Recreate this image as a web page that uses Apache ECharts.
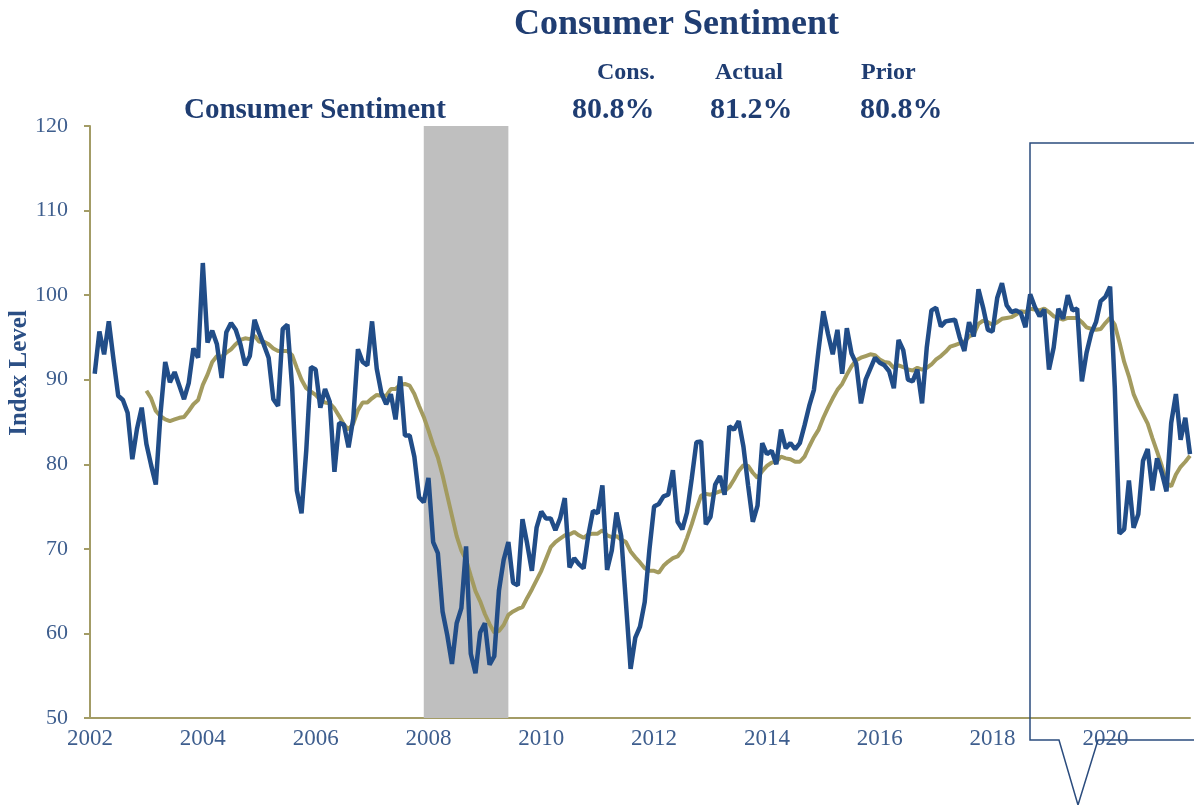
<!DOCTYPE html>
<html>
<head>
<meta charset="utf-8">
<title>Consumer Sentiment</title>
<script src="https://cdn.jsdelivr.net/npm/echarts@6/dist/echarts.min.js"></script>
<style>
  html, body { margin: 0; padding: 0; background: #fff; }
  #line { width: 1194px; height: 805px; }
</style>
</head>
<body>
<div id="line"></div>
<script>
// monthly index, Feb 2002 .. Jul 2021
var startYear = 2002, startMonth = 2;
var sentiment = [
  90.7, 95.7, 93.0, 96.9, 92.4, 88.1, 87.6, 86.1, 80.6, 84.2, 86.7,
  82.4, 79.9, 77.6, 86.0, 92.1, 89.7, 90.9, 89.3, 87.7, 89.6, 93.7, 92.6,
  103.8, 94.4, 95.8, 94.2, 90.2, 95.6, 96.7, 95.9, 94.2, 91.7, 92.8, 97.1,
  95.5, 94.1, 92.6, 87.7, 86.9, 96.0, 96.5, 89.1, 76.9, 74.2, 81.6, 91.5,
  91.2, 86.7, 88.9, 87.4, 79.1, 84.9, 84.7, 82.0, 85.4, 93.6, 92.1, 91.7,
  96.9, 91.3, 88.4, 87.1, 88.3, 85.3, 90.4, 83.4, 83.4, 80.9, 76.1, 75.5,
  78.4, 70.8, 69.5, 62.6, 59.8, 56.4, 61.2, 63.0, 70.3, 57.6, 55.3, 60.1,
  61.2, 56.3, 57.3, 65.1, 68.7, 70.8, 66.0, 65.7, 73.5, 70.6, 67.4, 72.5,
  74.4, 73.6, 73.6, 72.2, 73.6, 76.0, 67.8, 68.9, 68.2, 67.7, 71.6, 74.5,
  74.2, 77.5, 67.5, 69.8, 74.3, 71.5, 63.7, 55.8, 59.5, 60.8, 63.7, 69.9,
  75.0, 75.3, 76.2, 76.4, 79.3, 73.2, 72.3, 74.3, 78.3, 82.6, 82.7, 72.9,
  73.8, 77.6, 78.6, 76.4, 84.5, 84.1, 85.1, 82.1, 77.5, 73.2, 75.1, 82.5,
  81.2, 81.6, 80.0, 84.1, 81.9, 82.5, 81.8, 82.5, 84.6, 86.9, 88.8, 93.6,
  98.1, 95.4, 93.0, 95.9, 90.7, 96.1, 93.1, 91.9, 87.2, 90.0, 91.3, 92.6,
  92.0, 91.7, 91.0, 89.0, 94.7, 93.5, 90.0, 89.8, 91.2, 87.2, 93.8, 98.2,
  98.5, 96.3, 96.9, 97.0, 97.1, 95.0, 93.4, 96.8, 95.1, 100.7, 98.5, 95.9,
  95.7, 99.7, 101.4, 98.8, 98.0, 98.2, 97.9, 96.2, 100.1, 98.6, 97.5, 98.3,
  91.2, 93.8, 98.4, 97.2, 100.0, 98.2, 98.4, 89.8, 93.2, 95.5, 96.8, 99.3,
  99.8, 101.0, 89.1, 71.8, 72.3, 78.1, 72.5, 74.1, 80.4, 81.8, 76.9, 80.7,
  79.0, 76.8, 84.9, 88.3, 82.9, 85.5, 81.2
];

// 12 month average, Jan 2003 .. Jul 2021
var avgStartYear = 2003, avgStartMonth = 1;
var movingAvg = [
  88.7, 87.8, 86.3, 85.7, 85.3, 85.1, 85.3, 85.5, 85.6, 86.3, 87.1, 87.6,
  89.4, 90.6, 92.1, 92.8, 92.7, 93.2, 93.6, 94.2, 94.7, 94.9, 94.8, 95.2,
  94.5, 94.5, 94.2, 93.7, 93.4, 93.4, 93.4, 92.9, 91.4, 90.0, 89.0, 88.6,
  88.2, 87.6, 87.3, 87.2, 86.6, 85.7, 84.7, 84.1, 84.8, 86.4, 87.3, 87.3,
  87.8, 88.2, 88.1, 88.1, 88.9, 88.9, 89.4, 89.5, 89.3, 88.3, 86.9, 85.6,
  84.0, 82.3, 80.8, 78.7, 76.3, 73.9, 71.5, 69.8, 68.7, 66.8, 65.0, 63.8,
  62.3, 61.1, 60.1, 60.3, 61.0, 62.2, 62.6, 62.9, 63.1, 64.2, 65.2, 66.3,
  67.4, 68.8, 70.2, 70.8, 71.2, 71.6, 71.7, 72.0, 71.6, 71.3, 71.7, 71.8,
  71.8, 72.2, 71.6, 71.4, 71.5, 71.1, 70.8, 69.7, 69.0, 68.4, 67.7, 67.4,
  67.4, 67.2, 68.0, 68.5, 68.9, 69.1, 69.8, 71.3, 72.9, 74.7, 76.3, 76.5,
  76.4, 76.6, 76.8, 76.8, 77.3, 78.2, 79.2, 79.9, 79.8, 79.0, 78.4, 79.2,
  79.8, 80.2, 80.3, 80.9, 80.7, 80.6, 80.3, 80.3, 80.9, 82.1, 83.2, 84.1,
  85.5, 86.7, 87.8, 88.8, 89.5, 90.6, 91.6, 92.3, 92.6, 92.8, 93.0, 92.9,
  92.4, 92.1, 92.0, 91.4, 91.7, 91.5, 91.2, 91.1, 91.4, 91.2, 91.4, 91.8,
  92.4, 92.8, 93.3, 93.9, 94.1, 94.3, 94.5, 95.1, 95.4, 96.6, 97.0, 96.8,
  96.5, 96.8, 97.2, 97.3, 97.4, 97.7, 98.1, 98.0, 98.4, 98.3, 98.2, 98.4,
  98.0, 97.5, 97.3, 97.1, 97.3, 97.3, 97.3, 96.8, 96.2, 96.0, 95.9, 96.0,
  96.7, 97.3, 96.5, 94.4, 92.1, 90.4, 88.3, 87.0, 85.9, 84.8, 83.1, 81.5,
  79.8, 77.8, 77.4, 78.8, 79.7, 80.3, 81.0
];

// recession: Dec 2007 .. Jun 2009  [year, month]
var recessionStart = [2007, 12];
var recessionEnd = [2009, 6];

var xMin = 2002, xMax = 2021.5, xStep = 2;
var yMin = 50, yMax = 120, yStep = 10;

var header = ['Cons.', 'Actual', 'Prior'];
var headerValues = ['80.8%', '81.2%', '80.8%'];

function toYear(y, m) { return y + (m - 1) / 12; }
function toPairs(arr, y0, m0) {
  return arr.map(function (v, i) { return [toYear(y0, m0 + i), v]; });
}

var navy = '#1F3D72';
var serif = '"Liberation Serif", "DejaVu Serif", serif';

var myChart = echarts.init(document.getElementById('line'));

var option = {
  animation: false,
  grid: { left: 90, right: 4, top: 126, bottom: 87 },
  xAxis: {
    type: 'value',
    min: xMin, max: xMax, interval: xStep,
    axisLine: { lineStyle: { color: '#A39C66', width: 2 } },
    axisTick: { show: false },
    splitLine: { show: false },
    axisLabel: {
      margin: 9,
      color: '#3E5E8E',
      fontFamily: serif,
      fontSize: 23,
      formatter: function (v) { return v % 2 === 0 ? String(v) : ''; }
    }
  },
  yAxis: {
    type: 'value',
    min: yMin, max: yMax, interval: yStep,
    axisLine: { show: true, lineStyle: { color: '#A39C66', width: 2 } },
    axisTick: { show: true, length: 6, lineStyle: { color: '#A39C66', width: 2 } },
    splitLine: { show: false },
    axisLabel: { margin: 22, color: '#3E5E8E', fontFamily: serif, fontSize: 22 }
  },
  series: [
    {
      name: 'recession',
      type: 'line',
      data: [],
      z: 1,
      markArea: {
        silent: true,
        itemStyle: { color: '#BFBFBF' },
        data: [[
          { xAxis: toYear(recessionStart[0], recessionStart[1]) },
          { xAxis: toYear(recessionEnd[0], recessionEnd[1]) }
        ]]
      }
    },
    {
      name: '12M average',
      type: 'line',
      z: 2,
      showSymbol: false,
      data: toPairs(movingAvg, avgStartYear, avgStartMonth),
      lineStyle: { color: '#A39B5F', width: 4 }
    },
    {
      name: 'Consumer Sentiment',
      type: 'line',
      z: 3,
      showSymbol: false,
      data: toPairs(sentiment, startYear, startMonth),
      lineStyle: { color: '#214D88', width: 4.5 }
    }
  ],
  graphic: [
    { type: 'text', left: 514, top: 7, style: { text: 'Consumer Sentiment', fill: navy, font: 'bold 36px ' + serif } },
    { type: 'text', left: 597, top: 61, style: { text: header[0], fill: navy, font: 'bold 24px ' + serif } },
    { type: 'text', left: 715, top: 61, style: { text: header[1], fill: navy, font: 'bold 24px ' + serif } },
    { type: 'text', left: 861, top: 61, style: { text: header[2], fill: navy, font: 'bold 24px ' + serif } },
    { type: 'text', left: 184, top: 96, style: { text: 'Consumer Sentiment', fill: navy, font: 'bold 29px ' + serif } },
    { type: 'text', left: 572, top: 95, style: { text: headerValues[0], fill: navy, font: 'bold 30px ' + serif } },
    { type: 'text', left: 710, top: 95, style: { text: headerValues[1], fill: navy, font: 'bold 30px ' + serif } },
    { type: 'text', left: 860, top: 95, style: { text: headerValues[2], fill: navy, font: 'bold 30px ' + serif } },
    {
      type: 'text', x: 20, y: 373, rotation: Math.PI / 2,
      style: { text: 'Index Level', fill: '#2B4F85', font: 'bold 25px ' + serif, align: 'center', verticalAlign: 'middle' }
    },
    {
      // callout frame around the latest readings
      type: 'polyline', z: 10, silent: true,
      shape: { points: [[1200, 143], [1030, 143], [1030, 740], [1059, 740], [1078, 805], [1098, 740], [1200, 740]] },
      style: { stroke: '#2B4C7E', lineWidth: 1.5, fill: null }
    }
  ]
};

myChart.setOption(option);
</script>
</body>
</html>
